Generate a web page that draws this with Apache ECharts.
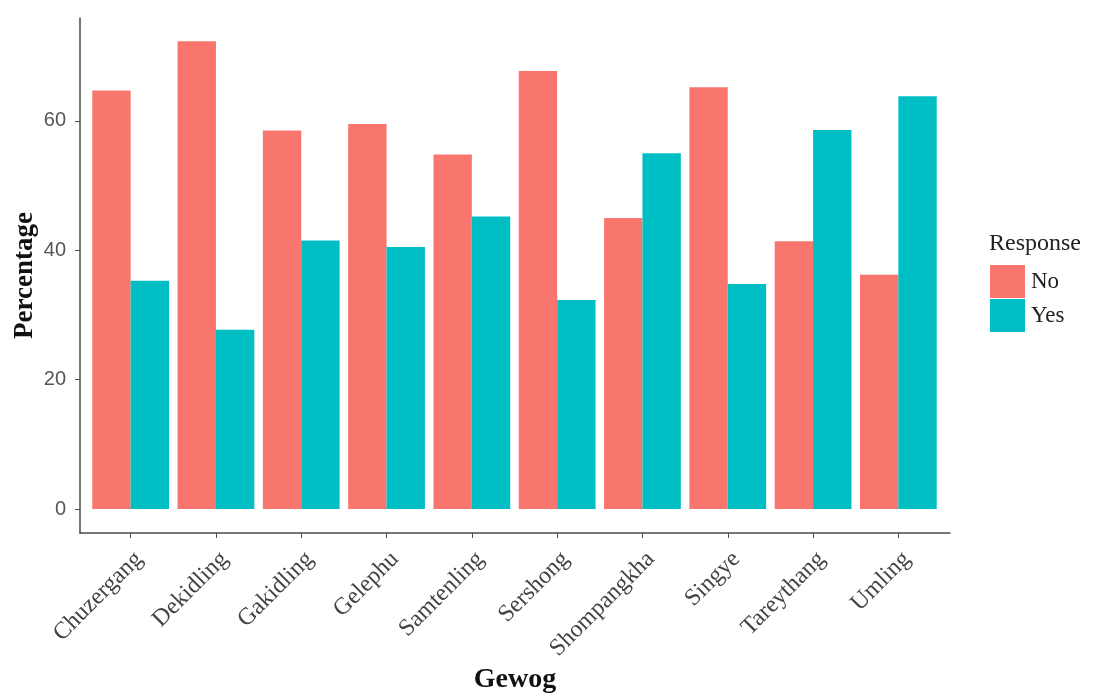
<!DOCTYPE html>
<html><head><meta charset="utf-8">
<script src="https://cdn.jsdelivr.net/npm/echarts@6/dist/echarts.min.js"></script>
<style>html,body{margin:0;padding:0;background:#fff}#c{width:1098px;height:695px}</style>
</head><body><div id="c"></div>
<script>
var categories = ['Chuzergang','Dekidling','Gakidling','Gelephu','Samtenling','Sershong','Shompangkha','Singye','Tareythang','Umling'];
var noValues  = [64.7, 72.3, 58.5, 59.5, 54.8, 67.7, 45.0, 65.2, 41.4, 36.2];
var yesValues = [35.3, 27.7, 41.5, 40.5, 45.2, 32.3, 55.0, 34.8, 58.6, 63.8];
var yTicks = [0, 20, 40, 60];

var chart = echarts.init(document.getElementById('c'), null, {renderer:'canvas'});
var serif = 'Liberation Serif';
var axisColor = '#4a4a4a';
var yMin = -3.7, yMax = 75.9;
chart.setOption({
  animation:false,
  backgroundColor:'#fff',
  title:{text:'Response', left:984, top:227, textStyle:{fontFamily:serif, fontSize:24, fontWeight:'normal', color:'#222'}},
  legend:{orient:'vertical', left:985, top:260, itemWidth:35, itemHeight:33, itemGap:1,
    icon:'rect', data:['No','Yes'],
    textStyle:{fontFamily:serif, fontSize:23, color:'#222', padding:[0,0,0,1]}},
  grid:[
    {left:80, right:148, top:18, bottom:162, containLabel:false, outerBoundsMode:'none'},
    {left:88, right:157, top:18, bottom:162, containLabel:false, outerBoundsMode:'none'}
  ],
  xAxis:[
    {type:'value', gridIndex:0, min:0, max:1, show:true,
      name:'Gewog', nameLocation:'middle', nameGap:133, nameMoveOverlap:false,
      nameTextStyle:{fontFamily:serif, fontSize:28, fontWeight:'bold', color:'#111'},
      axisLine:{show:true, onZero:false, lineStyle:{color:axisColor, width:1.5}},
      axisTick:{show:false}, axisLabel:{show:false}, splitLine:{show:false}},
    {type:'category', gridIndex:1, data:categories,
      axisLine:{show:false, onZero:false},
      axisTick:{show:true, alignWithLabel:true, length:5, lineStyle:{color:axisColor}},
      axisLabel:{rotate:45, interval:0, margin:14, verticalAlign:'top', fontFamily:serif, fontSize:24, color:'#444'}}
  ],
  yAxis:[
    {type:'value', gridIndex:0, min:yMin, max:yMax,
      name:'Percentage', nameLocation:'middle', nameGap:41, nameRotate:90, nameMoveOverlap:false,
      nameTextStyle:{fontFamily:serif, fontSize:27, fontWeight:'bold', color:'#111'},
      splitLine:{show:false},
      axisLine:{show:true, lineStyle:{color:axisColor, width:1.5}},
      axisTick:{show:true, length:5, customValues:yTicks, lineStyle:{color:axisColor}},
      axisLabel:{customValues:yTicks, margin:14, fontFamily:'Liberation Sans', fontSize:20, color:'#555'}},
    {type:'value', gridIndex:1, min:yMin, max:yMax, show:false, splitLine:{show:false}}
  ],
  series:[
    {name:'No', type:'bar', xAxisIndex:1, yAxisIndex:1, data:noValues, barWidth:'45%', barGap:'0%', itemStyle:{color:'#F8766D'}},
    {name:'Yes', type:'bar', xAxisIndex:1, yAxisIndex:1, data:yesValues, barWidth:'45%', barGap:'0%', itemStyle:{color:'#00BFC4'}}
  ]
});
</script></body></html>
